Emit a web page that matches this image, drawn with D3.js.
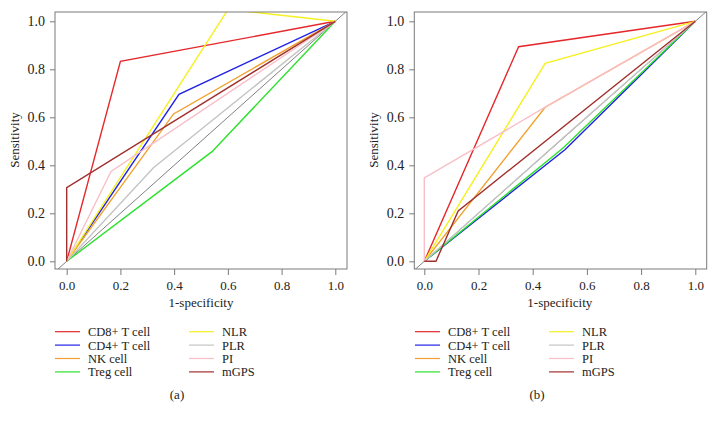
<!DOCTYPE html>
<html><head><meta charset="utf-8">
<script src="https://cdn.jsdelivr.net/npm/d3@7"></script>
<style>body{margin:0;background:#fff}svg{display:block}</style>
</head><body>
<script>
const seriesNames = ["CD8+ T cell","CD4+ T cell","NK cell","Treg cell","NLR","PLR","PI","mGPS"];
const seriesColors = ["#e5282c","#2222e6","#f2a12e","#2ee02e","#f6f020","#c4c4c4","#f8bfc8","#a0302e"];
const xTicks = [0,0.2,0.4,0.6,0.8,1.0];
const yTicks = [0,0.2,0.4,0.6,0.8,1.0];
const panelLabels = ["(a)","(b)"];

// Panel (a): [1-specificity, sensitivity] per series
const rocA_CD8  = [[0,0],[0.2,0.833],[1,1]];
const rocA_CD4  = [[0,0],[0.418,0.696],[1,1]];
const rocA_NK   = [[0,0],[0.398,0.614],[1,1]];
const rocA_Treg = [[0,0],[0.541,0.457],[1,1]];
const rocA_NLR  = [[0,0],[0.598,1.045],[0.64,1.045],[1,1]];
const rocA_PLR  = [[0,0],[0.323,0.39],[1,1]];
const rocA_PI   = [[0,0],[0.165,0.374],[1,1]];
const rocA_mGPS = [[0,0],[0,0.307],[1,1]];

// Panel (b)
const rocB_CD8  = [[0,0],[0.348,0.894],[1,1]];
const rocB_CD4  = [[0,0],[0.52,0.466],[1,1]];
const rocB_NK   = [[0,0],[0.446,0.642],[1,1]];
const rocB_Treg = [[0,0],[0.51,0.47],[1,1]];
const rocB_NLR  = [[0,0],[0.446,0.825],[1,1]];
const rocB_PLR  = [[0,0],[0.5,0.502],[1,1]];
const rocB_PI   = [[0,0],[0,0.347],[0.446,0.642],[1,1]];
const rocB_mGPS = [[0,0],[0.043,0],[0.125,0.21],[1,1]];

const panelsData = [
  [rocA_CD8,rocA_CD4,rocA_NK,rocA_Treg,rocA_NLR,rocA_PLR,rocA_PI,rocA_mGPS],
  [rocB_CD8,rocB_CD4,rocB_NK,rocB_Treg,rocB_NLR,rocB_PLR,rocB_PI,rocB_mGPS]
];

const W = 719, H = 424;
const FONT = "'Liberation Serif','Times New Roman',Times,serif";
const svg = d3.select("body").append("svg").attr("width",W).attr("height",H)
  .style("font-family", FONT);

const layouts = [
  {x0:66.7, x1:335.3, boxL:55, boxR:347, legX:55, capX:177},
  {x0:424.3, x1:695.3, boxL:414.3, boxR:706.7, legX:415, capX:537}
];
const yPix0 = 261.3, yPix1 = 21.3, boxT = 12, boxB = 269;

layouts.forEach((L, pi) => {
  const x = d3.scaleLinear().domain([0,1]).range([L.x0, L.x1]);
  const y = d3.scaleLinear().domain([0,1]).range([yPix0, yPix1]);
  const g = svg.append("g");
  const clipId = "clip" + pi;
  svg.append("defs").append("clipPath").attr("id", clipId)
    .append("rect").attr("x", L.boxL).attr("y", boxT)
    .attr("width", L.boxR - L.boxL).attr("height", boxB - boxT);

  const plot = g.append("g").attr("clip-path", `url(#${clipId})`);
  // reference diagonal
  plot.append("line")
    .attr("x1", x(-0.1)).attr("y1", y(-0.1)).attr("x2", x(1.1)).attr("y2", y(1.1))
    .attr("stroke", "#808080").attr("stroke-width", 1);

  const line = d3.line().x(d => x(d[0])).y(d => y(d[1]));
  panelsData[pi].forEach((s, i) => {
    plot.append("path").attr("d", line(s)).attr("fill","none")
      .attr("stroke", seriesColors[i]).attr("stroke-width", 1.4)
      .attr("stroke-linejoin","miter");
  });

  // box
  g.append("rect").attr("x", L.boxL).attr("y", boxT)
    .attr("width", L.boxR - L.boxL).attr("height", boxB - boxT)
    .attr("fill","none").attr("stroke","#7a7a7a").attr("stroke-width",1);

  // axes
  const xa = g.append("g").attr("transform", `translate(0,${boxB})`)
    .call(d3.axisBottom(x).tickValues(xTicks).tickFormat(d3.format(".1f")).tickSize(6).tickSizeOuter(0).tickPadding(6));
  xa.attr("font-family", FONT);
  xa.select(".domain").remove();
  xa.selectAll("line").attr("stroke","#7a7a7a");
  xa.selectAll("text").attr("font-size","13px").attr("fill","#222");

  const ya = g.append("g").attr("transform", `translate(${L.boxL},0)`)
    .call(d3.axisLeft(y).tickValues(yTicks).tickFormat(d3.format(".1f")).tickSize(5).tickSizeOuter(0).tickPadding(5));
  ya.attr("font-family", FONT);
  ya.select(".domain").remove();
  ya.selectAll("line").attr("stroke","#7a7a7a");
  ya.selectAll("text").attr("font-size","14px").attr("fill","#222");

  g.append("text").attr("x", (L.x0 + L.x1)/2).attr("y", 307).attr("text-anchor","middle")
    .attr("font-size","13px").attr("fill","#222").text("1-specificity");
  g.append("text").attr("transform", `translate(${L.boxL - 36},140) rotate(-90)`)
    .attr("text-anchor","middle").attr("font-size","13px").attr("fill","#222").text("Sensitivity");

  // legend
  const leg = g.append("g");
  seriesNames.forEach((n, i) => {
    const col = Math.floor(i / 4), row = i % 4;
    const lx = L.legX + col * 134;
    const ly = 331.7 + row * 13.4;
    leg.append("line").attr("x1", lx).attr("x2", lx + 25).attr("y1", ly).attr("y2", ly)
      .attr("stroke", seriesColors[i]).attr("stroke-width", 1.2);
    leg.append("text").attr("x", lx + 33).attr("y", ly + 4.4)
      .attr("font-size","12.5px").attr("fill","#222").text(n);
  });

  g.append("text").attr("x", L.capX).attr("y", 399).attr("text-anchor","middle")
    .attr("font-size","13px").attr("fill","#222").text(panelLabels[pi]);
});
</script>
</body></html>
